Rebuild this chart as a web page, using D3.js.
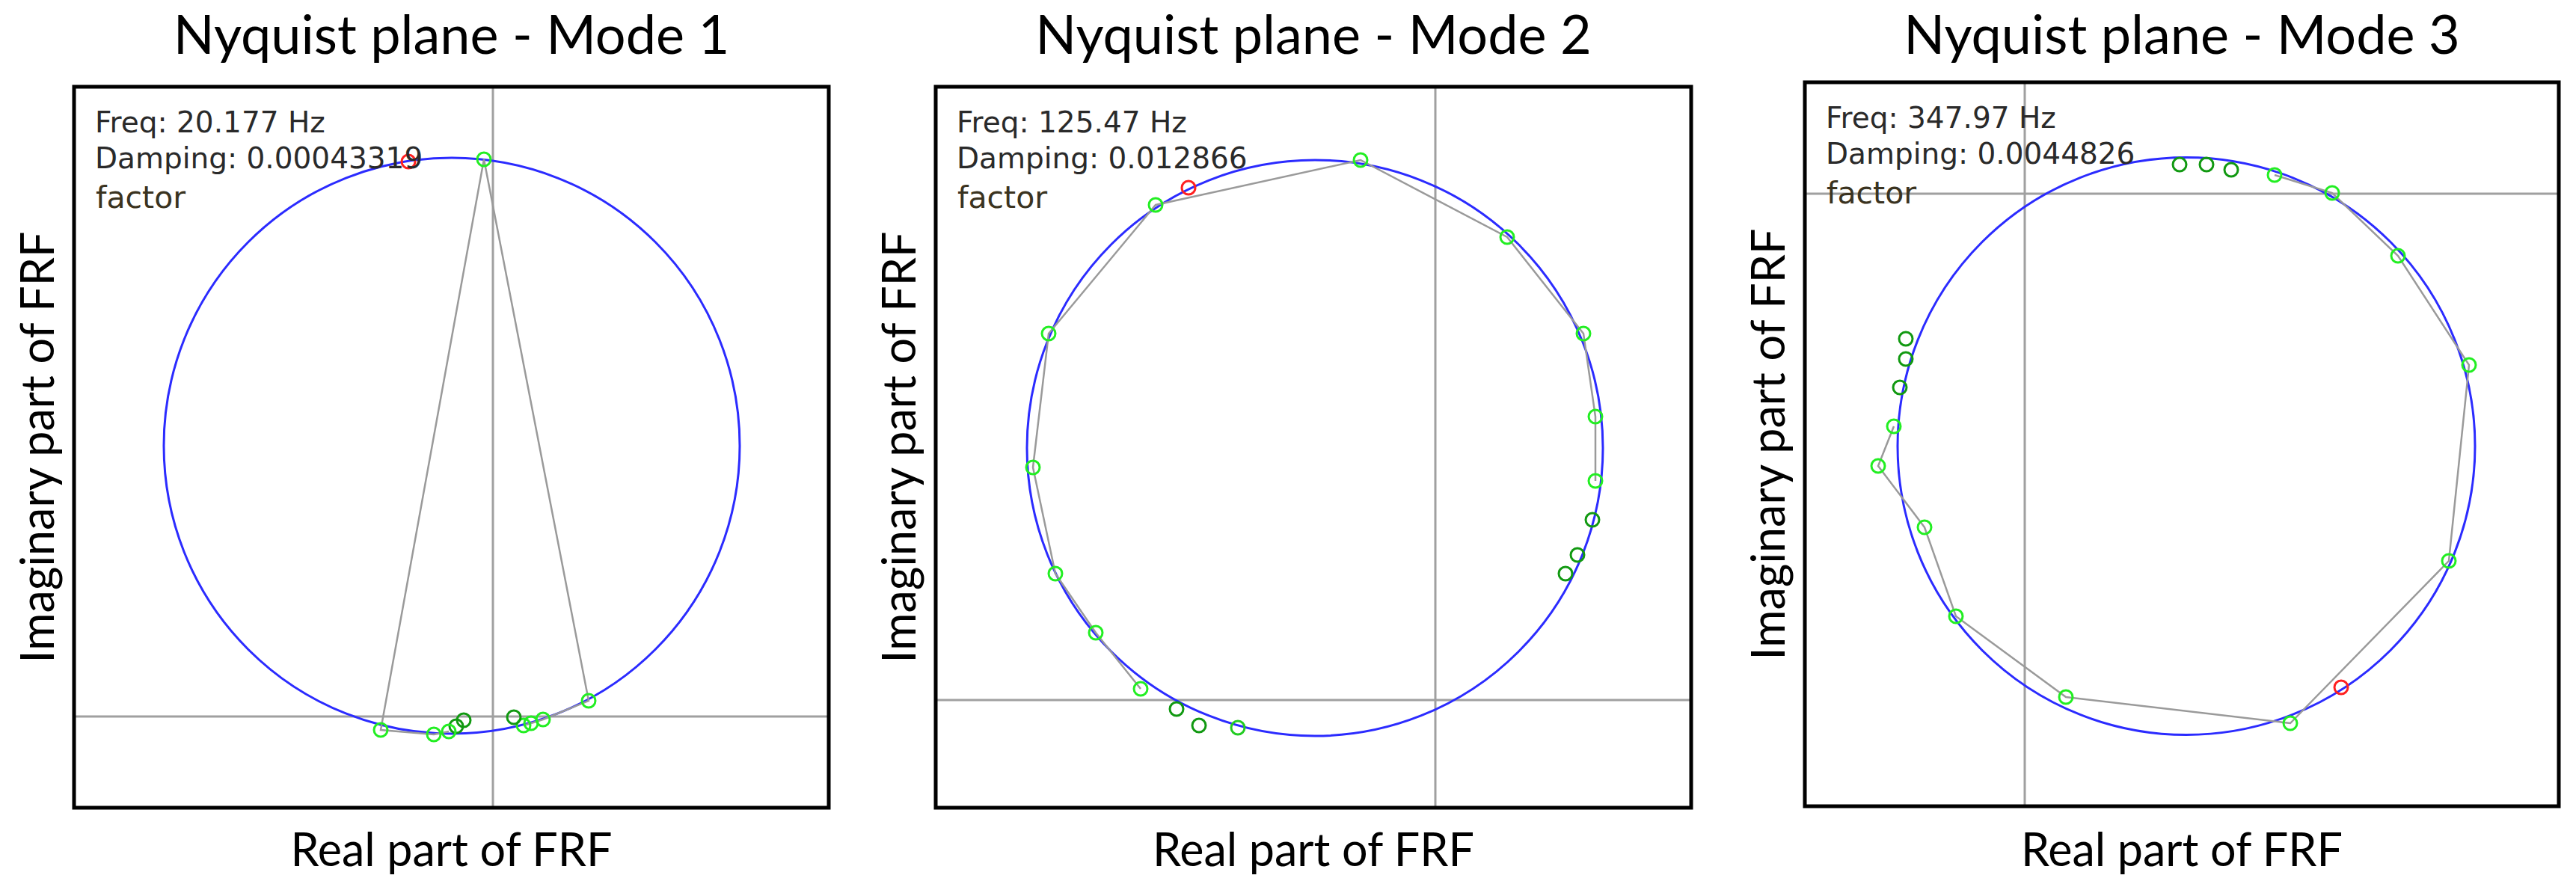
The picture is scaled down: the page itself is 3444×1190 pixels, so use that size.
<!DOCTYPE html>
<html>
<head>
<meta charset="utf-8">
<script src="https://cdn.jsdelivr.net/npm/d3@7"></script>
<style>
	body { margin: 0; background: #fff; }
</style>
</head>
<body>
<div id="chart"></div>
<script>
// Nyquist circle fits for the first three modes.
// FRF units are arbitrary here, the plots have no ticks.

const modes = ["Mode 1", "Mode 2", "Mode 3"];
const freqs = ["20.177", "125.47", "347.97"];
const dampings = ["0.00043319", "0.012866", "0.0044826"];

// visible window of each plot: [reMin, reMax, imMin, imMax]
const windows = [
	[-5.60, 4.49, -1.22, 8.42],
	[-6.68, 3.42, -1.44, 8.20],
	[-2.94, 7.14, -8.19, 1.49]
];

// fitted circle: [centre re, centre im, radius]
const circles = [
	[-0.55, 3.62, 3.85],
	[-1.61, 3.37, 3.85],
	[2.16, -3.375, 3.86]
];

// FRF samples [re, im, state] in frequency order
// u = used for the fit, x = left out, c = current/selected line
const points1 = [
	[-0.39, -0.05, "x"], [-0.49, -0.13, "x"], [-0.59, -0.20, "u"], [-0.79, -0.24, "u"],
	[-1.50, -0.18, "u"], [-0.12, 7.45, "u"], [1.28, 0.21, "u"], [0.67, -0.04, "u"],
	[0.51, -0.09, "u"], [0.41, -0.12, "u"], [0.28, -0.01, "x"], [-1.13, 7.42, "c"]
];
const points2 = [
	[-2.64, -0.37, "u2"], [-3.16, -0.34, "x"], [-3.46, -0.12, "x"], [-3.94, 0.15, "u"],
	[-4.54, 0.90, "u"], [-5.08, 1.69, "u"], [-5.38, 3.11, "u"], [-5.17, 4.90, "u"],
	[-3.74, 6.62, "u"], [-1.00, 7.22, "u"], [0.96, 6.19, "u"], [1.98, 4.90, "u"],
	[2.14, 3.79, "u"], [2.14, 2.93, "u"], [2.10, 2.41, "x"], [1.90, 1.94, "x"],
	[1.74, 1.69, "x"], [-3.30, 6.85, "c"]
];
const points3 = [
	[2.07, 0.39, "x"], [2.43, 0.39, "x"], [2.76, 0.32, "x"], [3.34, 0.25, "u"],
	[4.11, 0.01, "u"], [4.99, -0.83, "u"], [5.94, -2.29, "u"], [5.67, -4.91, "u"],
	[3.55, -7.08, "u"], [0.55, -6.73, "u"], [-0.92, -5.65, "u"], [-1.34, -4.46, "u"],
	[-1.96, -3.64, "u"], [-1.75, -3.11, "u"], [-1.67, -2.59, "x"], [-1.59, -2.21, "x"],
	[-1.59, -1.94, "x"], [4.23, -6.60, "c"]
];
const allPoints = [points1, points2, points3];

const width = 3444;
const height = 1190;

// frame of each plot in page pixels
const frames = [
	{x: 99, y: 116, w: 1009, h: 964},
	{x: 1251, y: 116, w: 1010, h: 964},
	{x: 2413, y: 110, w: 1008, h: 968}
];

// u2 is a used point that sits off the linked run
const markColor = {u: "#22ee22", u2: "#22cc22", x: "#119911", c: "#ff2020"};

const svg = d3.select("#chart").append("svg")
		.attr("width", width)
		.attr("height", height)
		.attr("viewBox", [0, 0, width, height]);

function panel(i) {
	const f = frames[i];
	const win = windows[i];
	const pts = allPoints[i];

	const x = d3.scaleLinear().domain([win[0], win[1]]).range([f.x, f.x + f.w]);
	const y = d3.scaleLinear().domain([win[2], win[3]]).range([f.y + f.h, f.y]);

	const g = svg.append("g");

	g.append("clipPath")
			.attr("id", "clip" + i)
		.append("rect")
			.attr("x", f.x).attr("y", f.y)
			.attr("width", f.w).attr("height", f.h);

	const plot = g.append("g").attr("clip-path", "url(#clip" + i + ")");

	// zero lines
	plot.append("line")
			.attr("x1", x(0)).attr("x2", x(0))
			.attr("y1", f.y).attr("y2", f.y + f.h)
			.attr("stroke", "#a0a0a0").attr("stroke-width", 3);
	plot.append("line")
			.attr("x1", f.x).attr("x2", f.x + f.w)
			.attr("y1", y(0)).attr("y2", y(0))
			.attr("stroke", "#a0a0a0").attr("stroke-width", 3);

	// fitted circle
	const c = circles[i];
	plot.append("ellipse")
			.attr("cx", x(c[0]))
			.attr("cy", y(c[1]))
			.attr("rx", x(c[0] + c[2]) - x(c[0]))
			.attr("ry", y(c[1]) - y(c[1] + c[2]))
			.attr("fill", "none")
			.attr("stroke", "#2b2bff")
			.attr("stroke-width", 3);

	// link the points used in the fit
	const line = d3.line().x(d => x(d[0])).y(d => y(d[1]));
	plot.append("path")
			.attr("d", line(pts.filter(d => d[2] == "u")))
			.attr("fill", "none")
			.attr("stroke", "#9a9a9a")
			.attr("stroke-width", 2.5);

	// readout text
	const info = g.append("g")
			.attr("font-family", "'DejaVu Sans', Verdana, sans-serif")
			.attr("fill", "#2a2a2a");
	info.append("text")
			.attr("x", f.x + 28).attr("y", f.y + 61)
			.attr("font-size", 39)
			.text("Freq: " + freqs[i] + " Hz");
	info.append("text")
			.attr("x", f.x + 28).attr("y", f.y + 109)
			.attr("font-size", 39)
			.text("Damping: " + dampings[i]);
	info.append("text")
			.attr("x", f.x + 29).attr("y", f.y + 162)
			.attr("font-size", 41)
			.attr("fill", "#3a3320")
			.text("factor");

	plot.selectAll("circle")
		.data(pts)
		.join("circle")
			.attr("cx", d => x(d[0]))
			.attr("cy", d => y(d[1]))
			.attr("r", 9)
			.attr("fill", "none")
			.attr("stroke", d => markColor[d[2]])
			.attr("stroke-width", 3);

	// frame
	g.append("rect")
			.attr("x", f.x).attr("y", f.y)
			.attr("width", f.w).attr("height", f.h)
			.attr("fill", "none")
			.attr("stroke", "#000")
			.attr("stroke-width", 5);

	// titles
	const cx = f.x + f.w / 2;
	g.append("text")
			.attr("x", cx).attr("y", 72)
			.attr("text-anchor", "middle")
			.attr("font-family", "Lato, 'Open Sans', sans-serif")
			.attr("font-size", 72)
			.text("Nyquist plane - " + modes[i]);
	g.append("text")
			.attr("x", cx).attr("y", 1158)
			.attr("text-anchor", "middle")
			.attr("font-family", "Lato, 'Open Sans', sans-serif")
			.attr("font-size", 61)
			.text("Real part of FRF");
	g.append("text")
			.attr("transform", "translate(" + (f.x - 27) + "," + (f.y + f.h / 2) + ") rotate(-90)")
			.attr("text-anchor", "middle")
			.attr("font-family", "Lato, 'Open Sans', sans-serif")
			.attr("font-size", 61)
			.text("Imaginary part of FRF");
}

modes.forEach((m, i) => panel(i));
</script>
</body>
</html>
